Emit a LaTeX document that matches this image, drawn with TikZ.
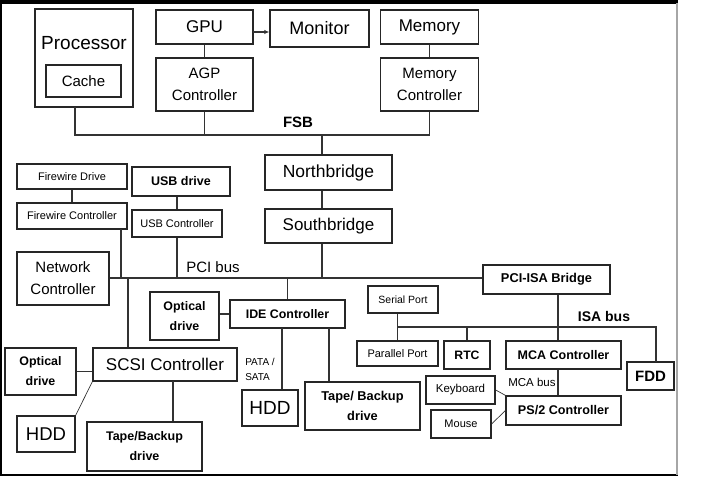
\documentclass[tikz,border=0pt]{standalone}
\usepackage{fontspec}
\setmainfont{Liberation Sans}
\usetikzlibrary{arrows.meta, calc}

\newcommand{\setfs}[2]{\fontsize{#1}{#2}\selectfont}

\tikzset{
    box/.style={draw=black!85, line width=1.4pt, fill=white, inner sep=0pt, align=center},
    wire/.style={draw=black!80, line width=1.3pt},
    thinwire/.style={draw=black!80, line width=0.7pt},
    tip/.style={-{Latex[length=5pt,width=4.5pt]}}
}

\begin{document}
\begin{tikzpicture}[x=1pt,y=-1pt]
        \useasboundingbox (0,0) rectangle (724,486);

        % Draw the frame round the diagram
        \draw[black, line width=4pt] (0,2) -- (678,2);
        \draw[black, line width=1.5pt] (1,0) -- (1,476);
        \draw[black, line width=1.2pt] (0,475) -- (678,475);
        \draw[black!35, line width=2pt] (677,3) -- (677,475);

        % Processor, graphics and memory
        \node (proc) [box, minimum width=98, minimum height=98] at (84,58) {};
        \node (proclbl) [font={\setfs{19}{22}}] at (84,43) {Processor};
        \node (cache) [box, minimum width=75, minimum height=32, font={\setfs{15}{18}}] at (83.5,81) {Cache};
        \node (gpu) [box, minimum width=97, minimum height=34, font={\setfs{17}{20}}] at (204.5,27) {GPU};
        \node (mon) [box, minimum width=99, minimum height=37, font={\setfs{18}{21}}] at (319.5,28.5) {Monitor};
        \node (mem) [box, minimum width=98, minimum height=34, font={\setfs{17}{20}}] at (429.5,27) {Memory};
        \node (agp) [box, minimum width=97, minimum height=53, font={\setfs{15}{22}}] at (204.5,84.5) {AGP\\Controller};
        \node (memc) [box, minimum width=98, minimum height=53, font={\setfs{15}{22}}] at (429.5,84.5) {Memory\\Controller};

        % Bridges
        \node (nb) [box, minimum width=127, minimum height=35, font={\setfs{17.5}{20}}] at (328.5,172.5) {Northbridge};
        \node (sb) [box, minimum width=127, minimum height=34, font={\setfs{17}{20}}] at (328.5,226) {Southbridge};

        % Devices on the PCI bus
        \node (fwd) [box, minimum width=110, minimum height=25, font={\setfs{11}{13}}] at (72,176.5) {Firewire Drive};
        \node (fwc) [box, minimum width=110, minimum height=26, font={\setfs{11}{13}}] at (72,216) {Firewire Controller};
        \node (usbd) [box, minimum width=98, minimum height=29, font={\setfs{12.5}{15}\bfseries}] at (181,181.5) {USB drive};
        \node (usbc) [box, minimum width=90, minimum height=27, font={\setfs{11}{13}}] at (177,223.5) {USB Controller};
        \node (net) [box, minimum width=92, minimum height=53, font={\setfs{15}{22}}] at (63,278.5) {Network\\Controller};
        \node (pciisa) [box, minimum width=127, minimum height=29, font={\setfs{12.8}{15}\bfseries}] at (546.5,279.5) {PCI-ISA Bridge};

        % IDE and SCSI
        \node (opt1) [box, minimum width=69, minimum height=48, font={\setfs{12.4}{20}\bfseries}] at (184.5,316) {Optical\\drive};
        \node (ide) [box, minimum width=115, minimum height=28, font={\setfs{12.4}{15}\bfseries}] at (287.5,314) {IDE Controller};
        \node (scsi) [box, minimum width=144, minimum height=33, font={\setfs{17}{20}}] at (165,364.5) {SCSI Controller};
        \node (opt2) [box, minimum width=71, minimum height=47, font={\setfs{12.4}{20}\bfseries}] at (40.5,371.5) {Optical\\drive};
        \node (hdd1) [box, minimum width=58, minimum height=36, font={\setfs{18.5}{21}}] at (46,434) {HDD};
        \node (tape1) [box, minimum width=115, minimum height=49, font={\setfs{12.5}{20}\bfseries}] at (144.5,446.5) {Tape/Backup\\drive};
        \node (hdd2) [box, minimum width=56, minimum height=36, font={\setfs{19}{21}}] at (270,408) {HDD};
        \node (tape2) [box, minimum width=115, minimum height=48, font={\setfs{12.8}{20}\bfseries}] at (362.5,406) {Tape/ Backup\\drive};

        % Devices on the ISA bus
        \node (serial) [box, minimum width=70, minimum height=27, font={\setfs{10.5}{13}}] at (403,299.5) {Serial Port};
        \node (par) [box, minimum width=81, minimum height=25, font={\setfs{11}{13}}] at (397.5,353.5) {Parallel Port};
        \node (rtc) [box, minimum width=46, minimum height=28, font={\setfs{12.2}{15}\bfseries}] at (467,355) {RTC};
        \node (mca) [box, minimum width=115, minimum height=28, font={\setfs{12.5}{15}\bfseries}] at (563.5,355) {MCA Controller};
        \node (fdd) [box, minimum width=47, minimum height=28, font={\setfs{15}{18}\bfseries}] at (650.5,376) {FDD};
        \node (kbd) [box, minimum width=69, minimum height=28, font={\setfs{11.5}{14}}] at (460.5,390) {Keyboard};
        \node (mouse) [box, minimum width=60, minimum height=28, font={\setfs{11}{13}}] at (461,424) {Mouse};
        \node (ps2) [box, minimum width=115, minimum height=29, font={\setfs{12.6}{15}\bfseries}] at (563.5,410.5) {PS/2 Controller};

        % Label the buses
        \node (fsblbl) [font={\setfs{15}{18}\bfseries}] at (298,122) {FSB};
        \node (pcilbl) [font={\setfs{15}{18}}] at (213,267) {PCI bus};
        \node (isalbl) [font={\setfs{14}{17}\bfseries}] at (604,316) {ISA bus};
        \node (mcalbl) [font={\setfs{11.5}{14}}] at (532,382) {MCA bus};
        \node (patalbl) [font={\setfs{10}{15}}, align=left] at (260,369) {PATA /\\SATA};

        % Front side bus
        \coordinate (fsb) at (322,135);
        \coordinate (proctap) at (75,107);
        \coordinate (gpuarr) at (253,32);
        \draw[wire, tip] (gpuarr) -- (gpuarr -| mon.west);
        \draw[wire] (gpu.south) -- (agp.north);
        \draw[wire] (mem.south) -- (memc.north);
        \draw[wire] (proctap) |- (fsb) -| (memc.south);
        \draw[wire] (agp.south) -- (agp.south |- fsb);
        \draw[wire] (fsb) -- (fsb |- nb.north);
        \draw[wire] (fsb |- nb.south) -- (fsb |- sb.north);

        % PCI bus
        \coordinate (pci) at (322,278);
        \coordinate (fwtap) at (121,229);
        \coordinate (scsitap) at (128,278);
        \draw[wire] (fsb |- sb.south) -- (pci);
        \draw[wire] (net.east |- pci) -- (pciisa.west |- pci);
        \draw[wire] (fwd.south) -- (fwc.north);
        \draw[wire] (fwtap) -- (fwtap |- pci);
        \draw[wire] (usbc.north) -- (usbc.north |- usbd.south);
        \draw[wire] (usbc.south) -- (usbc.south |- pci);
        \draw[wire] (scsitap) -- (scsitap |- scsi.north);
        \draw[wire] (ide.north) -- (ide.north |- pci);

        % Drives
        \coordinate (tapetap) at (173,381);
        \coordinate (hddtap) at (282,328);
        \coordinate (tapetap2) at (329,328);
        \draw[wire] (ide.west) -- (ide.west -| opt1.east);
        \draw[wire] (opt2.east) -- (opt2.east -| scsi.west);
        \draw[thinwire] (hdd1.north east) -- (scsi.south west);
        \draw[wire] (tapetap) -- (tapetap |- tape1.north);
        \draw[wire] (hddtap) -- (hddtap |- hdd2.north);
        \draw[wire] (tapetap2) -- (tapetap2 |- tape2.north);

        % ISA and MCA buses
        \coordinate (isa) at (558,327);
        \coordinate (fddtap) at (656,362);
        \draw[wire] (isa |- pciisa.south) -- (isa |- mca.north);
        \draw[wire] (par.north |- serial.south) -- (par.north);
        \draw[wire] (par.north |- isa) -| (fddtap);
        \draw[wire] (rtc.north) -- (rtc.north |- isa);
        \draw[wire] (isa |- mca.south) -- (isa |- ps2.north);
        \draw[thinwire] (kbd.east) -- (ps2.north west);
        \draw[thinwire] (mouse.east) -- (ps2.west);

    \end{tikzpicture}
\end{document}
